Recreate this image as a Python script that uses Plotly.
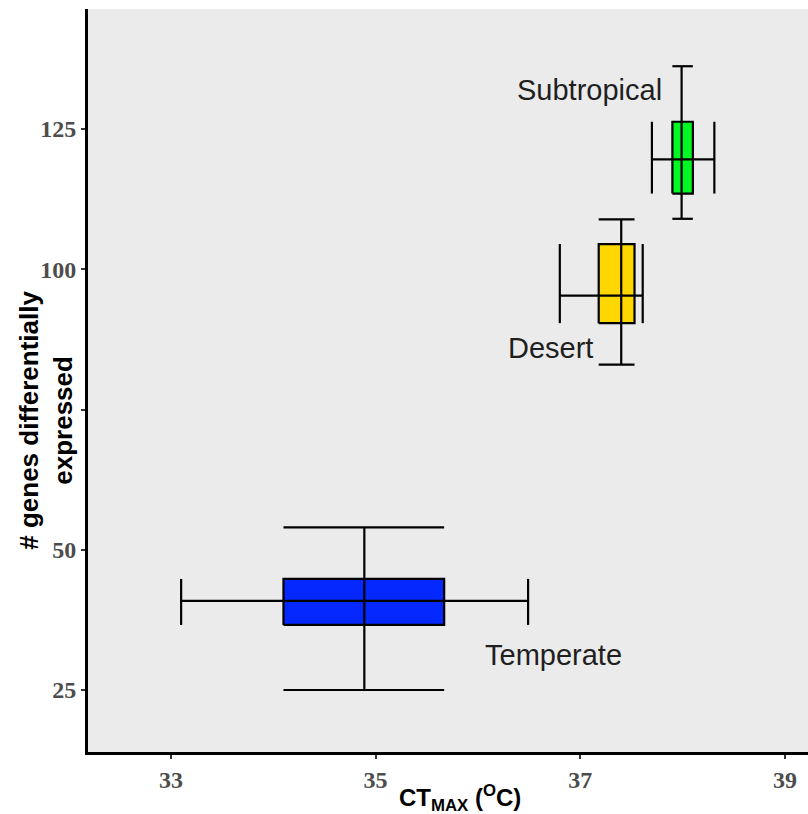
import plotly.graph_objects as go

# ---- data ----
groups = ["Temperate", "Desert", "Subtropical"]
colors = ["#0528FF", "#FFD700", "#00F922"]

x_mean = [34.89, 37.40, 37.99]
x_box_lo = [34.10, 37.18, 37.90]
x_box_hi = [35.67, 37.53, 38.10]
x_err_lo = [33.10, 36.80, 37.70]
x_err_hi = [36.49, 37.61, 38.31]

y_mean = [40.9, 95.3, 119.6]
y_box_lo = [36.6, 90.4, 113.5]
y_box_hi = [44.8, 104.5, 126.3]
y_err_lo = [25.0, 83.0, 109.0]
y_err_hi = [54.0, 108.9, 136.2]

label_x = [36.74, 36.71, 37.09]
label_y = [31.2, 86.0, 131.9]

x_tickvals = [33, 35, 37, 39]
x_ticktext = ["33", "35", "37", "39"]
y_tickvals = [25, 50, 75, 100, 125]
y_ticktext = ["25", "50", "", "100", "125"]

fig = go.Figure()

for i, g in enumerate(groups):
    # box (rectangle) from data ranges
    fig.add_trace(go.Scatter(
        x=[x_box_lo[i], x_box_hi[i], x_box_hi[i], x_box_lo[i], x_box_lo[i]],
        y=[y_box_lo[i], y_box_lo[i], y_box_hi[i], y_box_hi[i], y_box_lo[i]],
        mode="lines", fill="toself", fillcolor=colors[i],
        line=dict(color="black", width=2.2), hoverinfo="skip", showlegend=False))
    # error bars (crosshair with caps)
    ex = [x_mean[i], x_mean[i], None,
          x_box_lo[i], x_box_hi[i], None,
          x_box_lo[i], x_box_hi[i], None,
          x_err_lo[i], x_err_hi[i], None,
          x_err_lo[i], x_err_lo[i], None,
          x_err_hi[i], x_err_hi[i]]
    ey = [y_err_lo[i], y_err_hi[i], None,
          y_err_lo[i], y_err_lo[i], None,
          y_err_hi[i], y_err_hi[i], None,
          y_mean[i], y_mean[i], None,
          y_box_lo[i], y_box_hi[i], None,
          y_box_lo[i], y_box_hi[i]]
    fig.add_trace(go.Scatter(x=ex, y=ey, mode="lines",
                             line=dict(color="black", width=2.2),
                             hoverinfo="skip", showlegend=False))
    fig.add_annotation(x=label_x[i], y=label_y[i], text=g, showarrow=False,
                       font=dict(family="Liberation Sans, Arial", size=29, color="#1f1f1f"))

# y-axis title drawn as a rotated annotation so it can sit beside the tick labels
fig.add_annotation(xref="paper", yref="y", x=0, y=73, xshift=-42, xanchor="center", yanchor="middle",
                   text="# genes differentially<br>expressed", textangle=-90, showarrow=False,
                   font=dict(family="Liberation Sans, Arial", size=26, color="black", weight="bold"))

# x-axis title as annotation (slightly right of the plot-area centre, as in the reference)
fig.add_annotation(xref="paper", yref="paper", x=0.5, y=0, xshift=12, yshift=-46,
                   xanchor="center", yanchor="middle",
                   text="CT<sub>MAX</sub> (<sup>O</sup>C)", showarrow=False,
                   font=dict(family="Liberation Sans, Arial", size=24, color="black", weight="bold"))

tickfont = dict(family="Liberation Serif, Times New Roman", size=24, color="#4D4D4D", weight="bold")

fig.update_layout(
    width=808, height=814,
    margin=dict(l=88, r=0, t=9, b=62, autoexpand=False),
    paper_bgcolor="white", plot_bgcolor="#EBEBEB",
    showlegend=False,
    xaxis=dict(range=[32.19, 39.225], tickvals=x_tickvals, ticktext=x_ticktext,
               showgrid=False, zeroline=False, showline=True, linecolor="black", linewidth=3,
               ticks="outside", ticklen=4, tickcolor="#333333", tickwidth=1.5,
               tickfont=tickfont, automargin=False),
    yaxis=dict(range=[13.95, 146.4], tickvals=y_tickvals, ticktext=y_ticktext,
               showgrid=False, zeroline=False, showline=True, linecolor="black", linewidth=3,
               ticks="outside", ticklen=4, tickcolor="#333333", tickwidth=1.5,
               tickfont=tickfont, automargin=False),
)

fig.write_html("out.html", config={"displayModeBar": False},
               post_script="document.body.style.margin='0';document.body.style.padding='0';")
